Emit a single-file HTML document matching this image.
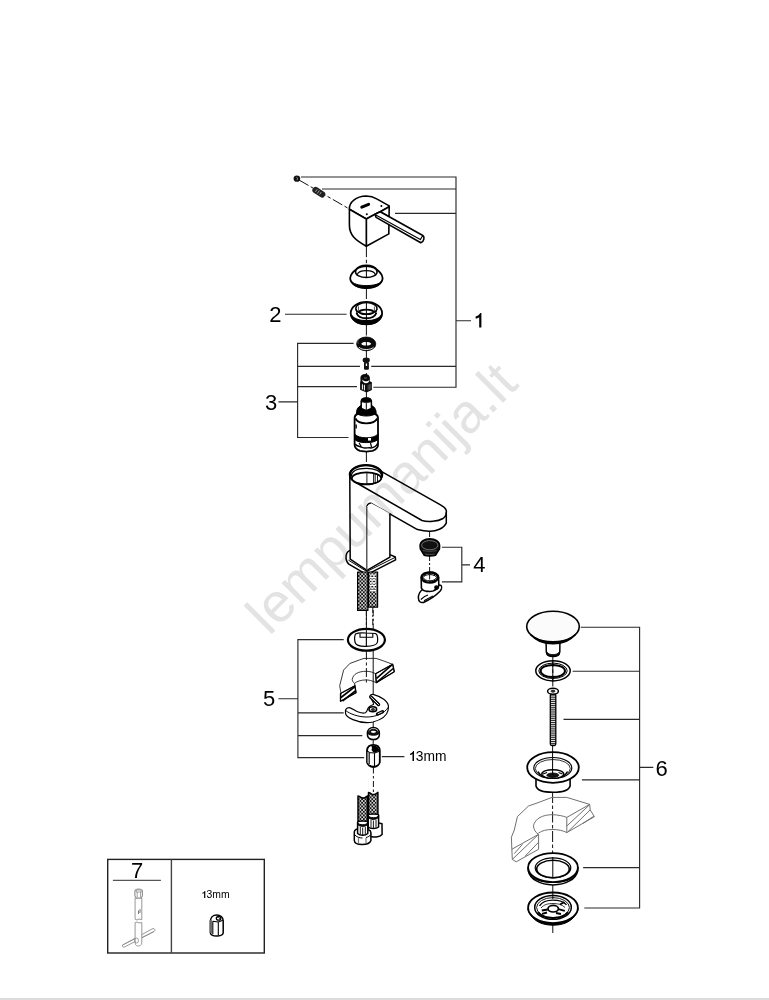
<!DOCTYPE html>
<html><head><meta charset="utf-8">
<style>
html,body{margin:0;padding:0;background:#fff;}
body{width:769px;height:1000px;overflow:hidden;position:relative;}
svg{position:absolute;left:0;top:0;}
text{font-family:"Liberation Sans",sans-serif;}
</style></head><body>
<svg width="769" height="1000" viewBox="0 0 769 1000">
<rect x="0" y="0" width="769" height="1000" fill="#fff"/>
<!-- watermark -->

<rect x="0" y="998" width="769" height="2" fill="#dcdcdc"/>

<!-- leader lines -->
<g stroke="#2a2a2a" stroke-width="1.15" fill="none">
  <!-- bracket 1 -->
  <path d="M301,177 H456 V387.2 H373.3 M322,189 H456 M395,213.3 H456 M371.2,366.3 H456 M456,320.7 H471"/>
  <!-- 2 -->
  <path d="M285,314.2 H346.6"/>
  <!-- bracket 3 -->
  <path d="M353.6,343.4 H297.6 V437.5 H348.5 M297.6,366.3 H360 M297.6,386.6 H357 M297.6,401.9 H278.4"/>
  <!-- bracket 4 -->
  <path d="M441.9,547.2 H461.8 V581.8 H441.9 M461.8,564.8 H470"/>
  <!-- bracket 5 -->
  <path d="M343.7,639.6 H297.9 V757.6 H364.2 M297.9,712.8 H343.7 M297.9,735.6 H362.3 M297.9,698.7 H278.4 M381.8,756.6 H404.4"/>
  <!-- bracket 6 -->
  <path d="M580.7,627.2 H639.6 V908 H584.3 M572.6,671.2 H639.6 M563.5,719.4 H639.6 M581.9,779.8 H639.6 M583.1,867.6 H639.6 M639.6,767.4 H653.3"/>
</g>
<g fill="#000" font-size="22">
  <text x="269.3" y="322.3">2</text>
  
  <text x="265" y="409.7">3</text>
  <text x="473.2" y="572.4">4</text>
  <text x="263" y="706">5</text>
  <text x="655.6" y="775.6">6</text>
  <text x="131" y="878.1">7</text>
  <text x="415.8" y="761.2" font-size="13.8">3mm</text>
  <text x="206.6" y="897.9" font-size="10.4">3mm</text>
</g>

<g fill="#000" stroke="none">
  <path d="M479.2,327.6 L479.2,317.2 C478.2,318 476.8,318.4 475.6,318.5 L475.6,316.6 C477.6,316.2 479.4,315 480.2,313.1 L481.4,313.1 L481.4,327.6 Z"/>
  <path d="M412.5,761.1 L412.5,754.1 C411.8,754.7 410.9,755 410.1,755.1 L410.1,753.8 C411.4,753.5 412.6,752.6 413.2,751.1 L414,751.1 L414,761.1 Z"/>
  <path d="M204.1,897.9 L204.1,893 C203.6,893.4 203,893.6 202.4,893.7 L202.4,892.8 C203.3,892.6 204.2,892 204.6,891 L205.3,891 L205.3,897.9 Z"/>
</g>
<!-- PARTS -->
<g id="axes" stroke="#111" stroke-width="1" fill="none" stroke-dasharray="11 2.5 3.5 2.5">
  <path d="M366.4,246.2 V266"/>
  <path d="M366.4,288 V302"/>
  <path d="M366.4,324.5 V337.5"/>
  <path d="M366.4,350 V358"/>
  <path d="M366.4,373 V375"/>
  <path d="M366.4,392 V398"/>
  <path d="M366.4,451 V466"/>
  <path d="M299,180 L349.4,209"/>
</g>
<!-- screw + spring -->
<ellipse cx="296.9" cy="178.7" rx="3.3" ry="3.1" fill="#111"/>
<path d="M296.5,177.3 C297.8,177.5 297.8,179.5 296.5,180.2" stroke="#ccc" stroke-width="0.7" fill="none"/>
<g transform="translate(318.8,192.2) rotate(33)">
  <rect x="-7" y="-3.2" width="14" height="6.4" rx="3" fill="#222"/>
  <path d="M-3,-1.5 V1.5 M-0.5,-1.8 V1.8 M2,-1.5 V1.5" stroke="#fff" stroke-width="0.5"/>
</g>
<!-- handle -->
<g stroke="#000" stroke-width="1.6" fill="#fff" stroke-linejoin="round">
  <path d="M349.4,209.3 C349,202 356,196.3 366.25,196 C371,196 374.5,197.5 376.7,198.9 L389.2,205.9 L389.2,206.7 L380.3,211.7 L375.1,214.3 L366.3,219 Z"/>
  <path d="M366.3,219 L375.1,214.3 L380.3,211.7 L389.2,206.7 L388.8,233.9 L366.3,246.2 Z"/>
  <path d="M349.4,209.3 L366.3,219 L366.3,246.2 C355,240 349.4,235 349.4,225 Z"/>
  <path d="M380.3,211.7 L422.8,235.5 C424.8,236.8 424.3,241.5 420.8,242.8 L376.1,217.4 L375.1,214.3 Z"/>
  <path d="M375.4,214.8 L420.3,239.6 L422.8,235.5 M380.3,211.7 L389,216.4" fill="none" stroke-width="1.1"/>
</g>
<path d="M361.8,207.2 L368.6,204.4" stroke="#000" stroke-width="3" stroke-linecap="round"/>
<circle cx="381.4" cy="206" r="1" fill="#000"/>
<circle cx="366.8" cy="214.3" r="1" fill="#000"/>
<!-- ring1 dome -->
<g stroke="#000" fill="#fff" stroke-width="1.5">
  <path d="M350.2,278 C350.6,274 353.5,271.5 355.8,269.8 C358,266.6 361.6,265.3 366.4,265.3 C371.2,265.3 374.8,266.6 377,269.8 C379.3,271.5 382.2,274 382.6,278 C382.6,284 375.5,288 366.4,288 C357.3,288 350.2,284 350.2,278 Z" stroke-width="1.8"/>
  <path d="M350.8,280.5 C353,284 359,285.6 366.4,285.6 C373.8,285.6 380,284 382,280.5 C381,285.5 374,288.2 366.4,288.2 C358.8,288.2 351.8,285.5 350.8,280.5 Z" fill="#000" stroke-width="1"/>
  <ellipse cx="366.3" cy="271.9" rx="10.8" ry="5.6" stroke-width="1.5"/>
  <path d="M357.2,274.5 C358,271.8 361.5,270.6 366.3,270.6 C371,270.6 374.6,271.8 375.4,274.5" fill="none" stroke-width="1.1"/>
  <path d="M366.4,266.5 V277.5" stroke-width="1" fill="none"/>
</g>
<!-- ring2 -->
<g stroke="#000" fill="#fff">
  <ellipse cx="366.4" cy="313.2" rx="15.7" ry="11.2" stroke-width="1.8"/>
  <path d="M351,314.5 C351.8,321 358,324.4 366.4,324.4 C374.8,324.4 381,321 381.8,314.5 C379.5,318.8 373.5,320.6 366.4,320.6 C359.3,320.6 353.3,318.8 351,314.5 Z" fill="#000" stroke-width="1.2"/>
  <ellipse cx="366.4" cy="308.4" rx="10.6" ry="5.8" stroke-width="1.4"/>
  <path d="M355.9,308.8 L357.3,314.2 M376.9,308.8 L375.5,314.2" stroke-width="1.2" fill="none"/>
  <path d="M356.5,313 C358,317 362,318.3 366.4,318.3 C370.8,318.3 374.8,317 376.3,313" stroke-width="1.9" fill="none"/>
  <path d="M358.5,306.5 L358.3,312 M374.3,306.5 L374.5,312" stroke-width="0.7" fill="none"/>
  <ellipse cx="366.4" cy="311.9" rx="7" ry="2.2" stroke-width="1.8"/>
  <path d="M366.4,301 V320" stroke-width="1" fill="none"/>
</g>
<!-- ring3 -->
<g stroke="#000">
  <ellipse cx="366.2" cy="343.9" rx="9.6" ry="6.9" fill="#0a0a0a" stroke-width="0.8"/>
  <path d="M361.2,343.8 C362,342.4 364,342 366.2,342 C368.4,342 370.3,342.4 371.2,343.8 C370.3,345.3 368.4,345.6 366.2,345.6 C364,345.6 362,345.3 361.2,343.8 Z" fill="#fff" stroke="none"/>
  <path d="M359,347.2 C360.5,348.8 363,349.5 366.2,349.5 C369.5,349.5 372,348.8 373.5,347.2" fill="none" stroke="#fff" stroke-width="0.9"/>
  <path d="M358.5,339 C357.8,340.5 357.6,342.5 358.3,344" fill="none" stroke="#777" stroke-width="0.6"/>
  <path d="M366.4,341.5 V346.5" stroke-width="0.9"/>
</g>
<!-- small screw -->
<g fill="#111">
  <rect x="362.7" y="357.8" width="7.1" height="4.8" rx="2"/>
  <rect x="364" y="362" width="4.9" height="7.8" rx="1"/>
  <rect x="365.8" y="363.5" width="1.3" height="2.5" fill="#fff"/>
</g>
<!-- nut -->
<g stroke="none">
  <path d="M360.1,382 L360.1,389.8 L366.5,392.6 L371.9,390 L371.9,382.3 L369.8,381.2 L369.9,377.5 C369.5,375 367.5,374 365.2,374 C362.5,374 360.6,375.2 360.4,377.8 L360.5,381 Z" fill="#0a0a0a"/>
  <path d="M361.8,379.2 C362.5,381.8 364.3,383.3 366,383.3 C367.8,383.3 369,382.2 369.4,380 C368.5,380.9 367.3,381.3 366,381.3 C364.5,381.3 363,380.6 361.8,379.2 Z" fill="#fff"/>
  <ellipse cx="365.5" cy="378" rx="1.8" ry="0.7" fill="#555"/>
  <path d="M362.4,384.3 V389.5 M364.4,384.8 V390.4" stroke="#fff" stroke-width="1"/>
  <path d="M368.2,384.8 V390.3 M369.6,384.3 V389.7 M370.8,383.8 V389.3" stroke="#888" stroke-width="0.6"/>
</g>
<!-- cartridge -->
<g stroke="#000">
  <path d="M354.6,418 C354.6,414.5 358,412.5 366.3,412.5 C374.6,412.5 378,414.5 378,418 L378,445 C378,447.5 376,449.5 372.5,450.8 L366.3,451.6 L360,450.8 C356.5,449.5 354.6,447.5 354.6,445 Z" fill="#fff" stroke-width="1.8"/>
  <path d="M356.4,413.5 C356.4,407.5 360,404.6 366.3,404.6 C372.6,404.6 376.2,407.5 376.2,413.5 C373,415.3 370,416 366.3,416 C362.6,416 359.5,415.3 356.4,413.5Z" fill="#000" stroke-width="1"/>
  <path d="M355.4,418.5 C357,421.8 361.5,423.4 366.3,423.4 C371.1,423.4 375.6,421.8 377.2,418.5" fill="none" stroke-width="1.9"/>
  <path d="M354.6,434 C357,436.8 361.5,437.8 366.3,437.8 C371.1,437.8 375.6,436.8 378,434 L378,439.5 C375,442 371,442.6 366.3,442.6 C361.5,442.6 357.5,442 354.6,439.5 Z" fill="#000" stroke-width="1"/>
  <path d="M361.2,401.5 C361.2,399 363.5,398 366.3,398 C369.1,398 371.4,399 371.4,401.5 L371.4,408.5 L366.3,410.8 L361.2,408.5 Z" fill="#fff" stroke-width="1.5"/>
  <path d="M361.2,401.5 C363,402.6 369.5,402.6 371.4,401.5 C371.2,399 369,398 366.3,398 C363.5,398 361.4,399 361.2,401.5Z" fill="#000" stroke-width="1"/>
  <path d="M366.3,402.5 V410.5" stroke-width="1"/>
  <path d="M356.2,424.5 V428.5" stroke-width="1.3"/>
  <path d="M355,444 C357,447 360,446 362.5,447.5 C365,449 369,447 371,448 C374,447.5 376.5,446 377.5,443.5" fill="none" stroke-width="1.4"/>
  <path d="M359,443 L361,446 M370.5,443 L371.5,447" fill="none" stroke-width="1.2"/>
  <rect x="368" y="438" width="3" height="2.6" fill="#fff" stroke="none"/>
</g>
<!-- faucet body -->
<defs>
  <pattern id="braid" width="3.4" height="3.6" patternUnits="userSpaceOnUse">
    <rect width="3.4" height="3.6" fill="#111"/>
    <circle cx="0" cy="0" r="0.9" fill="#fff"/><circle cx="3.4" cy="0" r="0.9" fill="#fff"/><circle cx="0" cy="3.6" r="0.9" fill="#fff"/><circle cx="3.4" cy="3.6" r="0.9" fill="#fff"/><circle cx="1.7" cy="1.8" r="0.9" fill="#fff"/>
  </pattern>
</defs>
<g stroke="#000" stroke-width="1.5" fill="#fff" stroke-linejoin="round">
  <!-- base plate -->
  <path d="M350,550.4 C346.5,552 345.8,555 346,558 C346.3,561 347.2,563 348.8,564.2 L366.8,574.6 L395.6,559.8 L395.3,557 L390,554.6 L390,545 L350,545 Z" stroke="none"/>
  <path d="M350,550.4 C346.5,552 345.8,555 346,558 C346.3,561 347.2,563 348.8,564.2 L366.8,574.6 L395.6,559.8 L395.3,557 L390,554.6" fill="none"/>
  <path d="M348.5,560.2 L366.8,571.5 L395.5,557.2" fill="none" stroke-width="1"/>
  <!-- hoses -->
  <rect x="357.6" y="572" width="10.3" height="38.4" fill="url(#braid)" stroke-width="1.2"/>
  <rect x="368.4" y="572" width="9.2" height="35.2" fill="url(#braid)" stroke-width="1.2"/>
  <path d="M370,575 H376 M370,577.6 H376 M370,580.2 H376 M370,582.8 H376 M370,585.4 H376 M370,588 H376 M370,590.6 H376" stroke="#fff" stroke-width="1.2"/>
  <!-- column + spout -->
  <path d="M349.8,474.4 C350.5,468.5 357.5,465.3 366.5,465.3 C373.5,465.3 378.5,467.6 381.7,471.7 L440.5,504.9 C446,508 446.6,511 446.3,512.2 L446.3,522.9 C444,528.5 436,531.6 428.8,531.2 C424,531 420,530 417,529.3 L371.2,503.3 C369,502.8 367,504.5 366.9,506.8 L366.9,570.3 L350.2,559.2 L349.8,474.4 Z"/>
  <path d="M366.9,570.3 L389.9,557.2 L389.9,513.2 L371.2,503.3 L366.9,506.8 Z" stroke="none"/>
  <path d="M366.9,570.3 L389.9,557.2 L389.9,513.2" fill="none"/>
  <path d="M366.9,507 V570" stroke="#666" stroke-width="1.3" fill="none"/>
  <path d="M353.3,481 L422,520.5 C428,522.3 438,521.5 443,518.5 C446,516.5 446.3,514 446.3,512.2" fill="none"/>
  <path d="M389.9,513.2 L389.9,513.2" fill="none"/>
  <!-- opening -->
  <ellipse cx="366" cy="474.7" rx="16.1" ry="9.5" stroke-width="2.3"/>
  <path d="M351.2,476.5 C351.5,471 358,468.4 366.3,468.4 C374.5,468.4 380.8,471 381.4,475" fill="none" stroke-width="1.3"/>
  <ellipse cx="366.5" cy="478.3" rx="14.6" ry="5.9" stroke-width="1.7"/>
  <path d="M366.9,472.5 V484 M373.6,473 V483.3 M375.2,473.3 V483 M377.5,474 V482" fill="none" stroke-width="0.9"/>
</g>
<path d="M366.4,610 V625 M372.8,607 V625" stroke="#111" stroke-width="1" stroke-dasharray="6 2 2 2"/>


<!-- aerator -->
<path d="M429.6,532 V539 M429.6,556 V572" stroke="#111" stroke-width="1" stroke-dasharray="5 2 2 2"/>
<g stroke="#000" stroke-width="1.4">
  <path d="M420,546 C420,541.5 424.5,538.7 429.8,538.7 C435.2,538.7 439.7,541.5 439.7,546 L439.5,549 L435.5,555.3 C433,556.2 426.5,556.2 424.1,555.3 L420.3,549 Z" fill="#111"/>
  <ellipse cx="429.8" cy="545.2" rx="8.2" ry="4.6" fill="none" stroke="#aaa" stroke-width="0.6"/>
  <path d="M423,550.5 C426,551.5 433,551.5 436.5,550.5 M425,554 C427,554.6 432,554.6 434.5,554" stroke="#888" stroke-width="0.5" fill="none"/>
</g>
<!-- aerator key -->
<g stroke="#000" stroke-width="1.5" fill="#fff" stroke-linejoin="round">
  <path d="M422.4,589.5 C420,591.5 418.3,594.5 418.4,598 C418.5,601.5 420.5,603 423.5,602.5 C430,599.5 436,595.5 440.2,591 C441.8,589 442,586.5 441,585.5 C439.5,584.6 437.5,585 436,586.5 Z"/>
  <path d="M421.2,577.5 C421.2,574 425,572.1 429.8,572.1 C434.6,572.1 438.6,574 438.6,577.5 L438.8,586 C437,589.8 433,591.5 429.8,591.5 C426,591.5 422,590.2 421.4,588 Z" stroke-width="1.6"/>
  <path d="M421.6,577.6 C422,574.5 425.5,572.6 429.8,572.6 C434,572.6 437.8,574.5 438.2,577.6 C437.5,581 433.5,582.6 429.8,582.6 C426,582.6 422.2,581 421.6,577.6 Z" stroke-width="2.4"/>
  <path d="M423.2,577.5 C424,575.5 426.5,574.6 429.8,574.6 C433,574.6 435.8,575.5 436.5,577.5 C435.8,579.8 433,580.8 429.8,580.8 C426.5,580.8 424,579.8 423.2,577.5 Z" stroke-width="1"/>
  <path d="M424.5,574 l0.8,1.6 M429.8,572.3 v1.8 M435,574 l-0.8,1.6 M424.5,581.3 l0.8,-1.4 M429.8,582.6 v-1.6 M435,581.3 l-0.8,-1.4" stroke-width="1.6"/>
  <path d="M429.6,574.5 V579.5" stroke-width="0.9"/>
  <path d="M420.8,599.5 C423.5,597 426,595.5 428,595 M424,600.8 C428,598.5 431,597 433,596 M433.5,590.5 C435.5,589.5 437.5,588.5 439,587.5 M426.5,592 L428.5,591" fill="none" stroke-width="1.1"/>
  <circle cx="436.5" cy="587.6" r="1.6" fill="#000"/>
</g>
<!-- part 5 -->
<!-- o-ring -->
<g stroke="#000" fill="none">
  <ellipse cx="366.4" cy="639.8" rx="18.5" ry="10.9" stroke-width="2.2"/>
  <path d="M355.5,634 C358,632.6 362,632.6 366,633 L375.5,633.5 C377.6,634.5 378,637 377.5,642 C376.8,645.5 370,646.3 366,646.3 C361,646.5 356.5,646 355.2,642.8 C354.5,640 354.5,636 355.5,634 Z" stroke-width="1.2"/>
  <path d="M360,633.5 V637.2 H372.8 V633.5" stroke-width="1.1"/>
  <path d="M366.4,633 V646" stroke-width="1"/>
</g>
<!-- countertop section -->
<g stroke="#222" stroke-width="0.9" fill="#fff" stroke-linejoin="round">
  <path d="M359.2,660 L364,658.4 L376,658.4 L381,660 L392.7,664.3 L394.3,671.7 L376.3,682.6 C372,680.5 368,679.9 366.2,679.9 C361,679.9 356.5,681.5 354.5,683.4 L356,692.8 L340.5,701.3 L340.9,692.8 L339.7,685.7 L343.6,670.1 L349.8,663.5 Z"/>
  <path d="M352.2,679.5 C353,674 358.5,671.3 366.2,671.3 C370,671.3 373,672.3 375.6,673.7 L392.7,664.3 M375.6,673.7 L376.3,682.6 M352.2,679.5 C352.5,681.5 353.5,682.5 354.5,683.4 L354.9,685.7 L340.5,693.5"/>
  <path d="M376.6,678.4 L391.9,664.8 M377,682 L393.2,668.5 M341,697.5 L355,686.5 M342.5,701 L356,690.5" stroke="#000" stroke-width="1.6"/>
  <path d="M375.6,673.7 L392.7,664.3 L394.3,671.7 L376.3,682.6 Z M354.9,685.7 L356,692.8 L340.5,701.3 L340.5,693.5 Z" fill="none" stroke="#000" stroke-width="1.3"/>
</g>
<!-- clamp -->
<g stroke="#000" stroke-width="1.2" fill="#fff" stroke-linejoin="round">
  <path d="M345.5,710 C346.5,708 348,707.4 349.4,707.6 C352,708 355,711 357.6,711.8 C361,713 364,713.3 365.4,712.8 C367,712 367.3,710 367.8,708.6 C368.5,706.8 370.5,705.5 373.5,704.5 C374,702 371,699 370.1,696.4 C370,695 371.5,694.2 373.2,694.3 C381,696.5 388.5,701 388.5,707 L388,710.5 C387,715.5 381,719.8 373,722 C368,723.2 360,722.5 352.9,719.6 C348,717.5 345.5,715.5 345.5,713 Z"/>
  <path d="M345.7,710.5 C350,714 358,716.8 366,717 C376,717.2 385,713 388.3,707.2" fill="none" stroke-width="1"/>
  <path d="M370.8,697 L378.5,704.5" stroke-width="3.4" stroke-linecap="round"/>
  <path d="M370.8,697 L378.5,704.5" stroke="#fff" stroke-width="1" stroke-linecap="round"/>
  <ellipse cx="372.8" cy="709.3" rx="3.8" ry="2.5" fill="#fff" stroke-width="1.6"/>
  <ellipse cx="373" cy="709.6" rx="1.8" ry="1.1" fill="#333" stroke-width="0.6"/>
  <path d="M377.5,714 L382.5,711.8" stroke-width="3.4" stroke-linecap="round"/>
  <path d="M378,713.7 L382,712" stroke="#fff" stroke-width="0.8" stroke-linecap="round"/>
</g>


<g stroke="#111" stroke-width="1" fill="none">
  <path d="M366.4,651 V685" stroke-dasharray="9 2.5 3 2.5"/>
  <path d="M366.4,610 V647"/>
  <path d="M373.2,610 V629" stroke-dasharray="6 2.5 2.5 2.5"/>
  <path d="M373.2,651 V694"/>
  <path d="M373.2,722 V727.5 M373.2,739.5 V745.5"/>
</g>
<!-- washer + nut -->
<g stroke="#000" stroke-width="1.5" fill="#fff">
  <path d="M367.4,733.5 C367.4,729.8 370,727.6 373.4,727.6 C376.8,727.6 379.4,729.8 379.4,733.5 L379.2,736 C378.5,738.5 376,739.6 373.4,739.6 C370.8,739.6 368.3,738.5 367.6,736 Z"/>
  <path d="M367.8,733.5 C368.5,731 370.5,729.3 373.4,729.3 C376.3,729.3 378.3,731 379,733.5 C377.5,735 375.5,735.3 373.4,735.3 C371.3,735.3 369.3,735 367.8,733.5Z" fill="#111" stroke-width="0.8"/>
  <ellipse cx="373.4" cy="731.8" rx="2.6" ry="1.1" fill="#fff" stroke="none"/>
  <path d="M367,750.5 C367.3,747 370,744.9 373.4,744.9 C376.8,744.9 379.5,747 379.8,750.5 L379.8,762 C379.5,765 376.5,767 373.4,767.2 C370.3,767 367.3,765 367,762 Z" stroke-width="1.8"/>
  <path d="M371.5,745.5 C375.5,745 378.8,747 379.3,750.5 C377.5,752 375,752.5 373.5,752.5 L371.5,750 Z" fill="#000" stroke="none"/>
  <path d="M369.5,747.5 C370.2,746.8 371.5,746.8 372,747.5 C372,749 370.8,750.5 369.6,750.2 Z" fill="#fff" stroke="none"/>
  <path d="M367.3,751 L369.2,752.5 L374.5,753 L379.5,751.2 M369.2,752.5 V764 M374.5,753 V766.5" fill="none" stroke-width="1.1"/>
  <path d="M367.9,752 V763" stroke="#888" stroke-width="1.4"/>
  <path d="M369.2,765 C371,766.8 375.5,767 378,765" fill="none" stroke-width="1.2"/>
</g>
<path d="M373.4,767.5 V793" stroke="#111" stroke-width="1" stroke-dasharray="6 2.5 2.5 2.5"/>
<!-- hose ends -->
<g stroke="#000" stroke-width="1.5" stroke-linejoin="round">
  <path d="M358,796 L360,796.8 C362,798.5 364.5,798.5 366.5,796.5 L367.4,795.9 L367.4,822 L358,822 Z" fill="url(#braid)"/>
  <path d="M368.5,792.4 L370.5,793.2 C372.5,795 375,795 377,793 L377.9,792.4 L377.9,815 L368.5,815 Z" fill="url(#braid)"/>
  <!-- right ferrule & nut -->
  <path d="M368.1,824 C368.1,822 375,821.5 382,823.8 L382.1,834.5 C380,837 373,838 369,836 L368.1,833 Z" fill="#fff"/>
  <path d="M368.2,815.2 C368.2,813.6 378.6,813.6 378.6,815.2 L378.6,827 C376.5,829 370,829 368.2,827 Z" fill="#fff"/>
  <path d="M368.2,815.5 C369,818.5 378,818.5 378.6,815.5 L378.6,817.5 C376,820 370.5,820 368.2,817.5 Z" fill="#111" stroke-width="1"/>
  <path d="M371,820 V827.5 M373.4,820.5 V828 M376,820 V827.5" fill="none" stroke-width="0.9"/>
  <!-- left ferrule & nut -->
  <path d="M354.3,832 C354.3,829.3 358,828.5 362,828.5 C366.5,828.5 370.9,830 370.9,832.5 L370.9,840.5 C370,843.5 366,844.5 362,844.5 C358,844.5 354.5,843 354.3,840.5 Z" fill="#fff"/>
  <path d="M357.6,822.3 C357.6,820.5 367.8,820.5 367.8,822.3 L367.8,833.5 C365.5,835.8 360,835.8 357.6,833.5 Z" fill="#fff"/>
  <path d="M357.6,822.5 C358.5,825.5 367,825.5 367.8,822.5 L367.8,824.5 C365.5,827 360,827 357.6,824.5 Z" fill="#111" stroke-width="1"/>
  <path d="M360.3,827 V834.5 M362.7,827.5 V835 M365.3,827 V834.5" fill="none" stroke-width="0.9"/>
  <path d="M354.6,834.5 C356,837 360,838 362.5,838 M366,837.5 C368,837 370,836 370.8,834.5" fill="none" stroke-width="1"/>
  <path d="M358.5,838 V843.5 M366,838 V843.5" fill="none" stroke="#777" stroke-width="1.2"/>
</g>


<!-- part 6 drain -->
<g stroke="#111" stroke-width="1" fill="none" stroke-dasharray="11 2.5 3.5 2.5">
  <path d="M552.8,656 V688"/>
  <path d="M552.6,745 V753"/>
  <path d="M552.6,792 V853"/>
  <path d="M552.8,884 V893 M552.8,923 V933"/>
</g>
<!-- cap -->
<g stroke="#000" fill="#fff">
  <path d="M546.1,643 L546.3,652 C547,655.5 550,656.4 553,656.4 C556,656.4 559,655.5 559.8,652 L559.9,643 Z" stroke-width="1.5"/>
  <path d="M546.8,652 C548,654 550.5,654.6 553,654.6 C555.5,654.6 558,654 559.3,652 L559.3,655 C558,656.6 548,656.6 546.8,655 Z" fill="#111" stroke-width="0.8"/>
  <ellipse cx="553" cy="626.6" rx="26.3" ry="15.3" stroke-width="1.6" fill="#fbfbfb"/>
  <path d="M530.5,634.5 C536,640 544,642.3 553,642.3 C562,642.3 570,640 575.5,634.5 C570,641 562,644 553,644 C544,644 536,641 530.5,634.5 Z" fill="#000" stroke-width="1.2"/>
</g>
<!-- ring -->
<g stroke="#000" fill="none">
  <ellipse cx="553" cy="670.8" rx="17.2" ry="10.1" stroke-width="1.5"/>
  <ellipse cx="553" cy="670.8" rx="14.2" ry="7.7" stroke-width="1"/>
  <ellipse cx="552.8" cy="671" rx="12.2" ry="6.1" stroke-width="2"/>
  <path d="M552.8,661 V681" stroke-width="1"/>
</g>
<!-- bolt -->
<defs>
  <pattern id="thread" width="6" height="1.9" patternUnits="userSpaceOnUse">
    <rect width="6" height="1.9" fill="#fff"/>
    <rect y="0" width="6" height="1.05" fill="#222"/>
  </pattern>
</defs>
<g stroke="#000">
  <rect x="550.3" y="694" width="5.5" height="51.5" rx="1.5" fill="url(#thread)" stroke-width="1.3"/>
  <ellipse cx="553" cy="691.3" rx="5.4" ry="3" fill="#fff" stroke-width="1.5"/>
  <ellipse cx="553" cy="691.2" rx="2" ry="1.1" fill="#333" stroke-width="0.6"/>
</g>
<!-- flange -->
<g stroke="#000" fill="#fff">
  <path d="M536,778 L536,786 C537,790 544,792.3 553,792.3 C562,792.3 569,790 570.1,786 L570.1,778 Z" stroke-width="1.6"/>
  <ellipse cx="553" cy="767.5" rx="25.8" ry="15.3" stroke-width="1.8"/>
  <ellipse cx="552.8" cy="768" rx="19" ry="10.5" stroke-width="1.2"/>
  <ellipse cx="552.8" cy="768.5" rx="17.5" ry="9" stroke-width="0.8"/>
  <path d="M538,771.5 C540,776 546,778 552.8,778 C559.5,778 565.5,776 567.5,771.5" fill="none" stroke-width="1.4"/>
  <ellipse cx="552.8" cy="774" rx="11" ry="4.3" stroke-width="1.4"/>
  <ellipse cx="552.8" cy="775.2" rx="6" ry="2.2" fill="#111" stroke-width="0.8"/>
  <path d="M543,774 L547,772.5 M558.5,772.5 L562.5,774" stroke-width="1.2" fill="none"/>
  <path d="M552.6,753 V775" stroke-width="1" fill="none"/>
</g>
<!-- countertop section drain -->
<g stroke="#707070" stroke-width="1" fill="none" stroke-linejoin="round">
  <path d="M552,797.4 L566.8,797.4 L589.7,804.4 L590.2,809.9 L594.4,816.7 L566.8,832.6 M589.7,804.4 L566.8,817.4 L566.8,832.6 M552,797.4 L537.1,803 L528.5,806 L517.4,816.6 L514.3,830 L511.4,837.2 L511.85,849.25 L512.3,859.4 L516.2,861.8 L538.6,849.25 L538.6,834.3 L511.85,849.25"/>
  <path d="M533.4,825.8 C535,818.5 543,814.7 552,814.7 C558,814.7 563,816 566.8,817.4 M538.5,834.3 C535.5,832.5 533.8,829.5 533.4,825.8 M538.4,833.2 C542,830.5 547,829.5 552,829.5 C558,829.5 563,830.5 566.8,832.6"/>
  <path d="M566.8,826 L589.7,804.7 M567.8,831.8 L590.2,809.9 M582.9,823.4 L593.8,816.2 M514.3,853.6 L522.4,844.4 M512.3,859.4 L538.3,834.6 M525.3,856 L538.8,842" stroke-width="1"/>
</g>
<!-- lower ring -->
<g stroke="#000" fill="#fff">
  <path d="M528.1,868 L528.3,871 C530,879 540,884.9 553,884.9 C566,884.9 576,879 577.7,871 L577.9,868 Z" stroke-width="1.5"/>
  <ellipse cx="553" cy="867.6" rx="24.9" ry="14.5" stroke-width="1.8"/>
  <path d="M528.8,872.5 C532,879.5 541,882.5 553,882.5 C565,882.5 574,879.5 577.2,872.5" fill="none" stroke-width="1"/>
  <ellipse cx="553" cy="867.8" rx="17.8" ry="10" stroke-width="1.2"/>
  <ellipse cx="553" cy="869" rx="16.3" ry="8.7" stroke-width="1.6"/>
  <path d="M552.8,857 V878" stroke-width="1" fill="none"/>
</g>
<!-- strainer -->
<g stroke="#000" fill="#fff">
  <path d="M528.1,909 C529,916 540,923.8 553,923.8 C566,923.8 577,916 577.9,909 Z" stroke-width="1.5"/>
  <ellipse cx="553" cy="907.8" rx="24.9" ry="15.3" stroke-width="1.8"/>
  <path d="M531,915.5 C537,921 545,923.6 553,923.6 C561,923.6 569,921 575,915.5 C570,923 561,925.2 553,925.2 C545,925.2 536,923 531,915.5 Z" fill="#000" stroke-width="1"/>
  <ellipse cx="553" cy="907.4" rx="18.3" ry="11.9" stroke-width="1.5"/>
  <ellipse cx="553" cy="907.6" rx="16.4" ry="10" stroke-width="0.9"/>
  <path d="M538,912 C541,916.5 546.5,918 553,918 C559.5,918 565,916.5 568,912" fill="none" stroke-width="1.8"/>
  <path d="M539.5,905.8 C542,902 547,900.1 553,900.1 C559,900.1 564,902 566.5,904.8" fill="none" stroke-width="1.4"/>
  <path d="M541,908 C544,904.5 548,903.5 553,903.5 C558,903.5 562,904.5 565,907.5" fill="none" stroke-width="0.8"/>
  <ellipse cx="553.2" cy="908.7" rx="5.2" ry="3.3" stroke-width="1.7"/>
  <path d="M541.8,910.5 L547.8,909.5 M558.5,909.2 L564.8,910.8 M560,904.5 L564.5,902 M542,913.8 L547,912.5 M556,913 L561,914" stroke-width="1.9" fill="none"/>
  <path d="M552.8,892 V899" stroke-width="1" fill="none"/>
</g>
<!-- tool 7 -->
<g stroke="#8c8c8c" stroke-width="0.9" fill="#fff" stroke-linejoin="round">
  <path d="M122.6,945 C122,946.5 123,947.5 124.5,947 L154,931.5 C155.5,930.5 155,928.5 153,928.5 Z"/>
  <path d="M135.1,898 L135.1,919.2 L137,920 L139,919 L141.8,919.7 L141.8,898 Z"/>
  <path d="M135.1,922.5 L137,922 L139,923 L141.8,922.5 L141.8,943 C141.5,945.5 139.5,946 138.4,946 C137,946 135.3,945.5 135.1,943 Z"/>
  <path d="M141.8,937.5 L154,931.5 M122.6,945 L135.1,938.7" fill="none" stroke-width="0.8"/>
  <ellipse cx="136.5" cy="940.5" rx="2" ry="2.5" fill="none" stroke-width="0.8"/>
  <path d="M134.9,891 C134.9,889.5 137,889 138.6,889 C140.5,889 142.4,889.5 142.4,891 L142.4,896 L141,898 L136.3,898 L134.9,896 Z" stroke-width="1.1"/>
  <path d="M136.5,890 L140.8,890 L141.3,892 L136,892 Z M137.2,892 V897.5 M140.5,892 V897.5" fill="none" stroke-width="0.8"/>
  <path d="M138.5,910.5 V914 M140,909 V913" stroke="#777" stroke-width="1"/>
</g>
<g stroke="#000" stroke-width="1.5" fill="#fff" stroke-linejoin="round">
  <path d="M210.4,921 C210.5,917.8 212.8,915 216.8,915 C220.5,915 223,917.5 223.2,920.5 L223.2,932.8 C222.8,935 220,936 216.5,936 C213,936 210.8,935 210.4,932.8 Z"/>
  <path d="M210.8,920 V933" stroke="#666" stroke-width="2.2"/>
  <path d="M212.8,921.3 L218.3,922 L222.8,920.3 M212.8,921.3 V934.3 M218.3,922 V935.6" fill="none" stroke-width="1.1"/>
  <ellipse cx="218.6" cy="918.3" rx="2.3" ry="1.9" fill="#fff" stroke-width="1.3"/>
  <path d="M217.5,917.5 C218.5,917 219.8,917.5 219.8,918.8" fill="none" stroke-width="1"/>
</g>

<text x="0" y="0" font-size="55" fill="#e3e3e3" style="mix-blend-mode:multiply" transform="translate(269.3,636.5) rotate(-45)">lempumanija.lt</text>
<!-- tool box -->
<g stroke="#222" stroke-width="1.4" fill="none">
  <rect x="107.7" y="859.4" width="156.6" height="93.6"/>
  <path d="M171.4,859.4 V953" stroke="#444"/>
  <path d="M112.9,880.4 H160.9" stroke="#555"/>
</g>
</svg>
</body></html>
